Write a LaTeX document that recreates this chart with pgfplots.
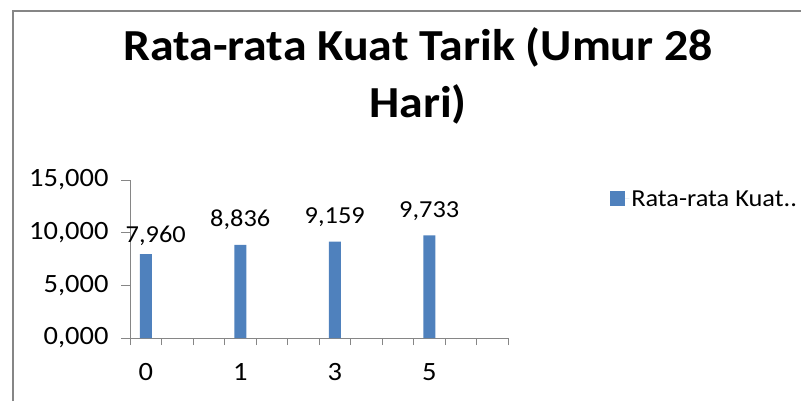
\documentclass[border=0pt]{standalone}
\usepackage{fontspec}
\setmainfont{Carlito}[FakeStretch=1.08]
\usepackage{pgfplots}
\pgfplotsset{compat=1.18}
\definecolor{barblue}{HTML}{4F81BD}
\definecolor{axgray}{HTML}{868686}

\begin{document}
\begin{tikzpicture}[x=1bp,y=1bp]
\path[use as bounding box] (0,0) rectangle (801,401);
% chart frame, only top and left edges are in view
\draw[axgray, line width=1.5bp] (13,0) -- (13,390) -- (801,390);
\node[font=\fontsize{44.5}{54}\selectfont\bfseries, anchor=base] at (418,341) {Rata-rata Kuat Tarik (Umur 28};
\node[font=\fontsize{44.5}{54}\selectfont\bfseries, anchor=base] at (418,284) {Hari)};

\begin{axis}[
    at={(130bp,63bp)}, anchor=south west,
    scale only axis, width=378bp, height=158bp,
    xmin=-0.5, xmax=11.5, ymin=0, ymax=15,
    axis x line=bottom, axis y line=left,
    axis line style={-, axgray, line width=1bp},
    tick align=outside,
    every tick/.style={axgray, line width=1bp},
    ytick={0,5,10,15},
    yticklabels={{0,000},{5,000},{10,000},{15,000}},
    major tick length=9bp,
    xtick={0,3,6,9},
    xticklabels={0,1,3,5},
    xtick style={/pgfplots/major tick length=0pt},
    minor xtick={-0.5,0.5,...,11.5},
    minor tick length=7bp,
    ticklabel style={font=\fontsize{26.5}{30}\selectfont, text=black},
    yticklabel style={xshift=-9bp},
    xticklabel style={yshift=-13bp},
    legend style={at={(1.27,0.88)}, anchor=west, draw=none,
        font=\fontsize{24.5}{30}\selectfont, inner sep=0pt},
    legend cell align=left,
]
\addplot[ybar, bar width=12bp, fill=barblue, draw=none,
    legend image code/.code={\fill[barblue] (0bp,-7.5bp) rectangle (15bp,7.5bp);
        \path (0bp,0bp) -- (19bp,0bp);}]
    coordinates {(0,7.960) (3,8.836) (6,9.159) (9,9.733)};
\addlegendentry{Rata-rata Kuat..}
% value labels
\addplot[draw=none, mark=none, forget plot, nodes near coords,
    point meta=explicit symbolic,
    nodes near coords style={font=\fontsize{24.5}{30}\selectfont, anchor=base, yshift=18bp}]
    coordinates {(3,8.836)[8,836] (6,9.159)[9,159] (9,9.733)[9,733]};
\addplot[draw=none, mark=none, forget plot, nodes near coords,
    point meta=explicit symbolic,
    nodes near coords style={font=\fontsize{24.5}{30}\selectfont, anchor=base, yshift=12bp, xshift=10bp}]
    coordinates {(0,7.960)[7,960]};
\end{axis}
\end{tikzpicture}
\end{document}
